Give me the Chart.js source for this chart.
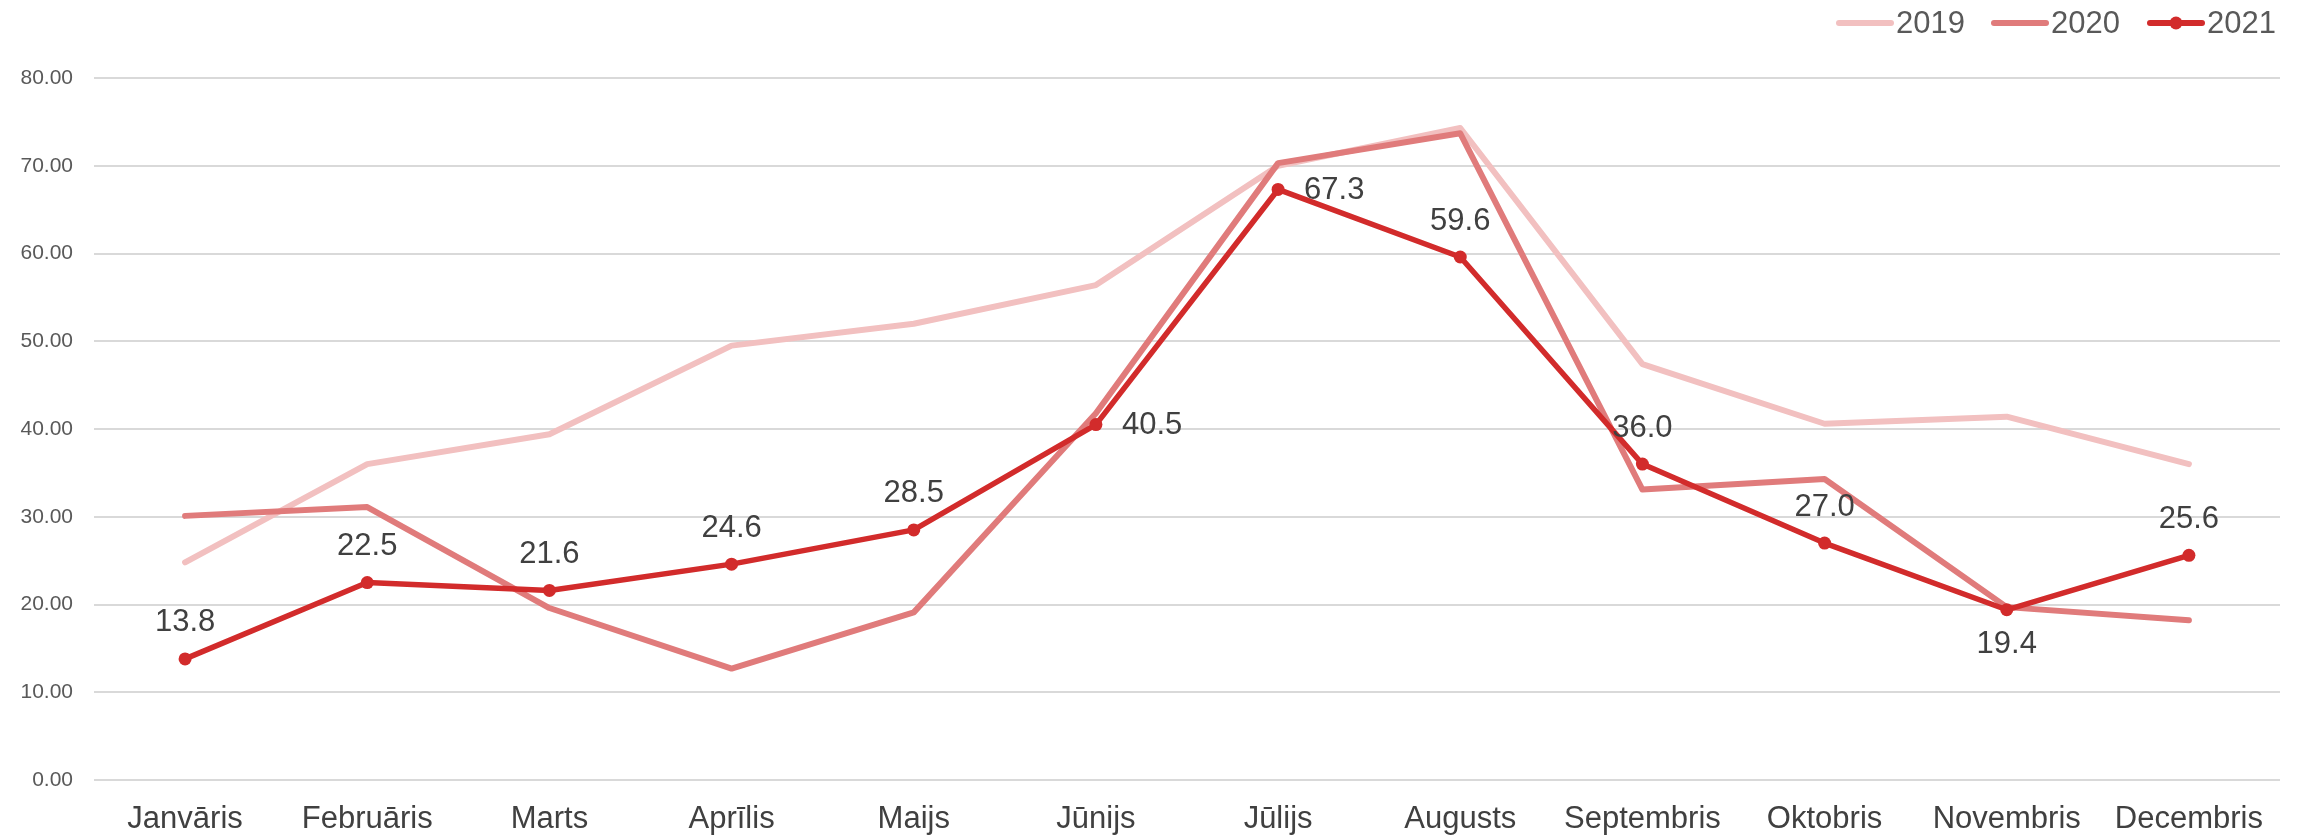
<!DOCTYPE html>
<html>
<head>
<meta charset="utf-8">
<script src="https://cdn.jsdelivr.net/npm/chart.js@4"></script>
<style>
  html, body { margin: 0; padding: 0; background: #fff; }
  #wrap { width: 2303px; height: 839px; }
</style>
</head>
<body>
<div id="wrap"><canvas id="chart" width="2303" height="839"></canvas></div>
<script>
// months (Latvian)
const months = ['Janvāris', 'Februāris', 'Marts', 'Aprīlis', 'Maijs', 'Jūnijs',
  'Jūlijs', 'Augusts', 'Septembris', 'Oktobris', 'Novembris', 'Decembris'];

const values2019 = [24.8, 36.0, 39.4, 49.5, 52.0, 56.4, 70.0, 74.3, 47.4, 40.6, 41.4, 36.0];
const values2020 = [30.1, 31.1, 19.6, 12.7, 19.1, 41.8, 70.3, 73.7, 33.1, 34.3, 19.7, 18.2];
const values2021 = [13.8, 22.5, 21.6, 24.6, 28.5, 40.5, 67.3, 59.6, 36.0, 27.0, 19.4, 25.6];

const seriesNames = ['2019', '2020', '2021'];

// where each 2021 label sits relative to its point
const labelPlace = ['top', 'top', 'top', 'top', 'top', 'right', 'right', 'top', 'top', 'top', 'bottom', 'top'];

const col2019 = '#f2c0c0';
const col2020 = '#e07b7b';
const col2021 = '#d22b2b';

// draw value labels for the 2021 series
const valueLabels = {
  id: 'valueLabels',
  afterDatasetsDraw(chart) {
    const meta = chart.getDatasetMeta(2);
    const ctx = chart.ctx;
    ctx.save();
    ctx.font = '31px "Liberation Sans", Arial, sans-serif';
    ctx.fillStyle = '#404040';
    meta.data.forEach((pt, i) => {
      const txt = values2021[i].toFixed(1);
      const place = labelPlace[i];
      if (place === 'right') {
        ctx.textAlign = 'left';
        ctx.textBaseline = 'middle';
        ctx.fillText(txt, pt.x + 26, pt.y + 1);
      } else if (place === 'bottom') {
        ctx.textAlign = 'center';
        ctx.textBaseline = 'middle';
        ctx.fillText(txt, pt.x, pt.y + 35);
      } else {
        ctx.textAlign = 'center';
        ctx.textBaseline = 'middle';
        ctx.fillText(txt, pt.x, pt.y - 36);
      }
    });
    ctx.restore();
  }
};

// legend in the top right corner, Excel style
const topLegend = {
  id: 'topLegend',
  afterDraw(chart) {
    const ctx = chart.ctx;
    const items = [
      { name: seriesNames[0], color: col2019, dot: false, x: 1837 },
      { name: seriesNames[1], color: col2020, dot: false, x: 1992 },
      { name: seriesNames[2], color: col2021, dot: true, x: 2148 }
    ];
    const y = 23;
    ctx.save();
    ctx.font = '31px "Liberation Sans", Arial, sans-serif';
    ctx.textBaseline = 'middle';
    ctx.textAlign = 'left';
    items.forEach(it => {
      ctx.strokeStyle = it.color;
      ctx.lineWidth = 6;
      ctx.lineCap = 'round';
      ctx.beginPath();
      ctx.moveTo(it.x + 2, y);
      ctx.lineTo(it.x + 54, y);
      ctx.stroke();
      if (it.dot) {
        ctx.fillStyle = it.color;
        ctx.beginPath();
        ctx.arc(it.x + 28, y, 6.5, 0, Math.PI * 2);
        ctx.fill();
      }
      ctx.fillStyle = '#595959';
      ctx.fillText(it.name, it.x + 59, y + 1);
    });
    ctx.restore();
  }
};

const ctx = document.getElementById('chart').getContext('2d');
new Chart(ctx, {
  type: 'line',
  data: {
    labels: months,
    datasets: [
      {
        label: seriesNames[0],
        data: values2019,
        borderColor: col2019,
        borderWidth: 6,
        pointRadius: 0,
        borderJoinStyle: 'round',
        borderCapStyle: 'round',
        order: 3
      },
      {
        label: seriesNames[1],
        data: values2020,
        borderColor: col2020,
        borderWidth: 6,
        pointRadius: 0,
        borderJoinStyle: 'round',
        borderCapStyle: 'round',
        order: 2
      },
      {
        label: seriesNames[2],
        data: values2021,
        borderColor: col2021,
        backgroundColor: col2021,
        borderWidth: 5.5,
        pointRadius: 6.5,
        pointBorderWidth: 0,
        pointBackgroundColor: col2021,
        borderJoinStyle: 'round',
        borderCapStyle: 'round',
        order: 1
      }
    ]
  },
  options: {
    responsive: false,
    animation: false,
    layout: {
      padding: { top: 78, right: 23, left: 0, bottom: 0 }
    },
    plugins: {
      legend: { display: false },
      tooltip: { enabled: false }
    },
    scales: {
      y: {
        min: 0,
        max: 80,
        border: { display: false },
        grid: {
          color: '#d9d9d9',
          lineWidth: 2,
          drawTicks: false
        },
        ticks: {
          stepSize: 10,
          padding: 21,
          color: '#595959',
          font: { family: '"Liberation Sans", Arial, sans-serif', size: 21 },
          callback: function(value) {
            return value.toFixed(2);
          }
        },
        afterFit: function(scale) {
          scale.width = 94;
        }
      },
      x: {
        offset: true,
        border: { display: false },
        grid: { display: false, drawTicks: false },
        ticks: {
          padding: 21,
          color: '#404040',
          maxRotation: 0,
          autoSkip: false,
          font: { family: '"Liberation Sans", Arial, sans-serif', size: 31 }
        },
        afterFit: function(scale) {
          scale.height = 59;
        }
      }
    }
  },
  plugins: [valueLabels, topLegend]
});
</script>
</body>
</html>
